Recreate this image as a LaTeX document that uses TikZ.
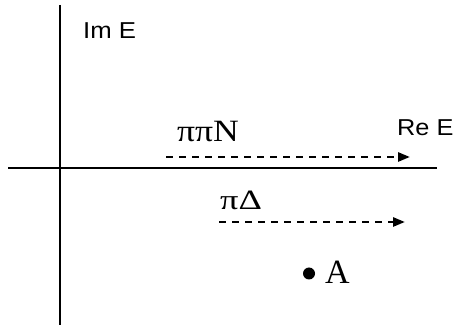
\documentclass[tikz,border=0pt]{standalone}
\usepackage{fontspec}
\setmainfont{Liberation Serif}
\newfontfamily\labsans{Liberation Sans}
\usetikzlibrary{arrows.meta}
\begin{document}
\begin{tikzpicture}[x=1pt,y=-1pt,
  axis/.style={line width=1.6pt},
  chan/.style={line width=2.6pt, dash pattern=on 7pt off 6pt, -{Triangle[length=12pt,width=9pt]}},
  serlab/.style={inner sep=0pt, anchor=base west},
  sanlab/.style={inner sep=0pt, anchor=base west, font=\labsans\fontsize{23}{23}\selectfont}]
\useasboundingbox (0,0) rectangle (455,328);
% axes
\coordinate (xl) at (8,168);
\coordinate (xr) at (437,168);
\coordinate (yt) at (60,5);
\coordinate (yb) at (60,325);
\draw[axis] (xl) -- (xr);
\draw[axis] (yt) -- (yb);
% labels
\node[sanlab] (im) at (83,39) {\scalebox{1.12}[1]{Im E}};
\node[sanlab] (re) at (397,136) {\scalebox{1.1}[1]{Re E}};
% pi pi N
\coordinate (a1) at (166,157);
\coordinate (b1) at (410,157);
\draw[chan] (a1) -- (b1);
\node[serlab, font=\fontsize{31}{31}\selectfont] (ppn) at (177,141.5) {\scalebox{1.15}[1]{ππN}};
% pi Delta
\coordinate (a2) at (219,222);
\coordinate (b2) at (405,222);
\draw[chan] (a2) -- (b2);
\node[serlab, font=\fontsize{28}{28}\selectfont] (pd) at (220,209.5) {\scalebox{1.3}[1]{πΔ}};
% point A
\fill (309,273.5) circle (6pt) coordinate (dotA);
\node[serlab, font=\fontsize{34}{34}\selectfont] (A) at (325,284) {A};
\end{tikzpicture}
\end{document}
